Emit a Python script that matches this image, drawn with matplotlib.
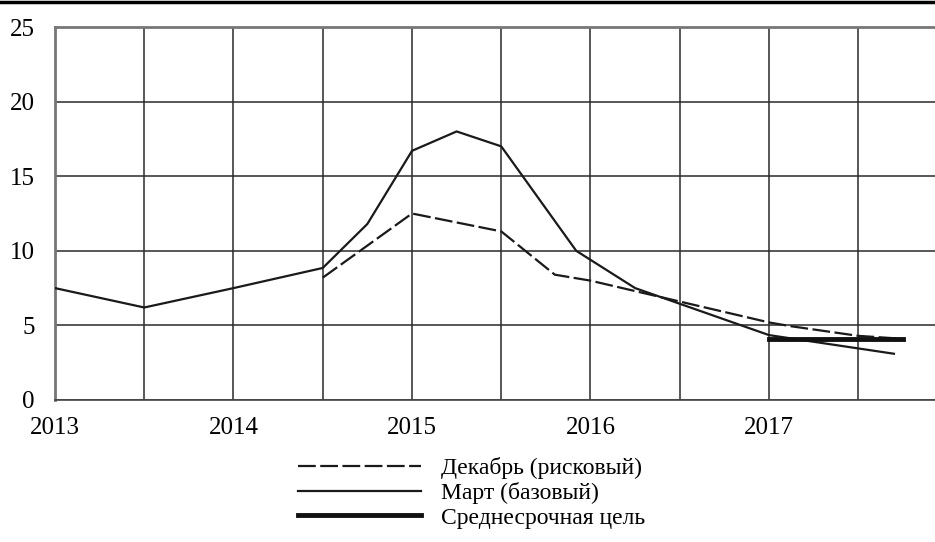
import matplotlib.pyplot as plt
from matplotlib.lines import Line2D

plt.rcParams['font.family'] = ['Liberation Serif', 'DejaVu Serif']

# Март (базовый)
base_x = [2013.0, 2013.5, 2014.0, 2014.5, 2014.75, 2015.0, 2015.25, 2015.5, 2015.92, 2016.25, 2017.0, 2017.7]
base_y = [7.5, 6.2, 7.5, 8.85, 11.8, 16.7, 18.0, 17.0, 10.0, 7.5, 4.35, 3.1]

# Декабрь (рисковый)
risk_x = [2014.5, 2015.0, 2015.5, 2015.8, 2016.0, 2017.0, 2017.12, 2017.5, 2017.75]
risk_y = [8.2, 12.5, 11.3, 8.4, 8.0, 5.2, 4.95, 4.3, 4.1]

# Среднесрочная цель
target_x = [2017.0, 2017.75]
target_y = [4.1, 4.1]

year_ticks = [2013, 2014, 2015, 2016, 2017]
half_years = [2013.5, 2014.5, 2015.5, 2016.5, 2017.5]
y_ticks = [0, 5, 10, 15, 20, 25]

fig = plt.figure(figsize=(9.35, 5.42), dpi=100)
ax = fig.add_axes([55 / 935, 1 - 400 / 542, 1 - 55 / 935, 373 / 542])

ax.plot(risk_x, risk_y, color='#1a1a1a', lw=1.6, linestyle=(0, (8, 2)), label='Декабрь (рисковый)', zorder=3)
ax.plot(base_x, base_y, color='#1a1a1a', lw=1.6, label='Март (базовый)', zorder=3)
ax.plot(target_x, target_y, color='#111111', lw=3.5, label='Среднесрочная цель', zorder=4)

ax.set_xlim(2013, 2017.93)
ax.set_ylim(0, 25)
ax.set_xticks(year_ticks)
ax.set_xticks(half_years, minor=True)
ax.set_yticks(y_ticks)
ax.grid(True, which='both', color='#2a2a2a', lw=1.1)
ax.set_axisbelow(True)
ax.tick_params(which='both', length=0)
ax.tick_params(axis='x', labelsize=18, pad=12.5)
ax.tick_params(axis='y', labelsize=18, pad=14.5)

for side in ['left', 'top']:
    ax.spines[side].set_color('#777777')
    ax.spines[side].set_linewidth(2)
ax.spines['bottom'].set_color('#444444')
ax.spines['bottom'].set_linewidth(1.2)
ax.spines['right'].set_visible(False)

fig.add_artist(Line2D([0, 1], [1 - 1.5 / 542, 1 - 1.5 / 542], color='black', lw=2.5, transform=fig.transFigure))

h, l = ax.get_legend_handles_labels()
fig.legend(h, l, loc='upper left', bbox_to_anchor=(298 / 935, 1 - 457 / 542),
           frameon=False, fontsize=17, handlelength=5.2, handletextpad=0.85,
           labelspacing=0.13, borderpad=0, borderaxespad=0)

fig.savefig('out.png', dpi=100)
